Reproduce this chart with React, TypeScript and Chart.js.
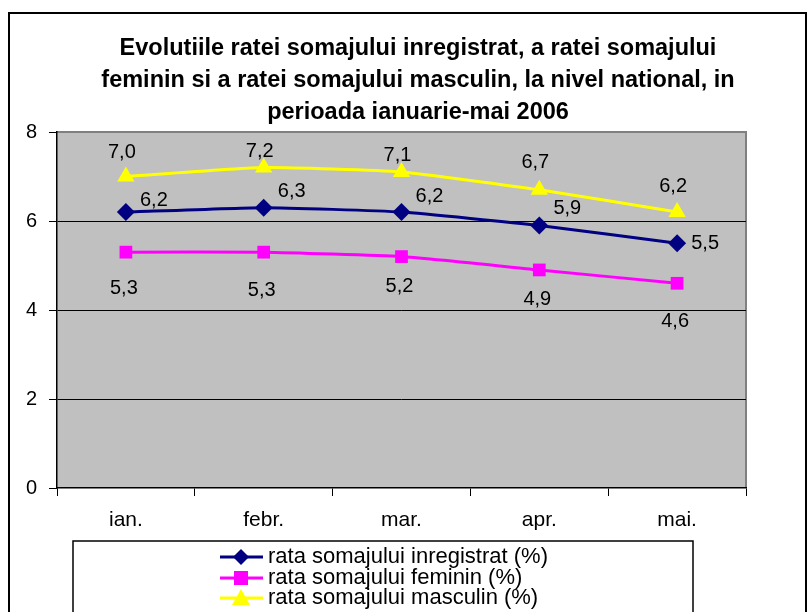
import React, { useEffect, useRef } from "react";
import { Chart, registerables } from "chart.js";

Chart.register(...registerables);

const categories = ["ian.", "febr.", "mar.", "apr.", "mai."];
const rateTotal = [6.2, 6.3, 6.2, 5.9, 5.5];
const rateFeminin = [5.3, 5.3, 5.2, 4.9, 4.6];
const rateMasculin = [7.0, 7.2, 7.1, 6.7, 6.2];
const seriesNames = [
  "rata somajului inregistrat (%)",
  "rata somajului feminin (%)",
  "rata somajului masculin (%)",
];
const titleLines = [
  "Evolutiile ratei somajului inregistrat, a ratei somajului",
  "feminin si a ratei somajului masculin, la nivel national, in",
  "perioada ianuarie-mai 2006",
];
const yTicks = [0, 2, 4, 6, 8];

// label offsets (style)
const labelDx = [28, -2, -4];
const labelDy = [
  [-12, -16, -16, -17, 0],
  [36, 38, 30, 30, 38],
  [-24, -16, -17, -27, -26],
];

const colors = ["#000080", "#FF00FF", "#FFFF00"];
const FONT = "Arial, 'Liberation Sans', sans-serif";

const fmt = (v: number) => v.toFixed(1).replace(".", ",");

const decorPlugin = {
  id: "decor",
  beforeDraw(chart: any) {
    const { ctx, chartArea } = chart;
    ctx.save();
    ctx.fillStyle = "#ffffff";
    ctx.fillRect(0, 0, chart.width, chart.height);
    // outer frame
    ctx.strokeStyle = "#000000";
    ctx.lineWidth = 2;
    ctx.strokeRect(9, 13, 797, 640);
    // plot background
    ctx.fillStyle = "#C0C0C0";
    ctx.fillRect(chartArea.left, chartArea.top, chartArea.right - chartArea.left, chartArea.bottom - chartArea.top);
    // grey top/right border
    ctx.strokeStyle = "#808080";
    ctx.lineWidth = 2;
    ctx.beginPath();
    ctx.moveTo(chartArea.left, chartArea.top);
    ctx.lineTo(chartArea.right, chartArea.top);
    ctx.lineTo(chartArea.right, chartArea.bottom);
    ctx.stroke();
    // title
    ctx.fillStyle = "#000000";
    ctx.font = `bold 23.5px ${FONT}`;
    ctx.textAlign = "center";
    ctx.textBaseline = "middle";
    titleLines.forEach((t, i) => ctx.fillText(t, 418, 49 + i * 32));
    ctx.restore();
  },
  afterDatasetsDraw(chart: any) {
    const { ctx } = chart;
    ctx.save();
    ctx.font = `20px ${FONT}`;
    ctx.fillStyle = "#000000";
    ctx.textAlign = "center";
    ctx.textBaseline = "middle";
    chart.data.datasets.forEach((ds: any, di: number) => {
      const meta = chart.getDatasetMeta(di);
      meta.data.forEach((pt: any, i: number) => {
        ctx.fillText(fmt(ds.data[i]), pt.x + labelDx[di], pt.y + labelDy[di][i]);
      });
    });
    // legend
    const bx = 73, by = 541, bw = 620;
    ctx.fillStyle = "#ffffff";
    ctx.fillRect(bx, by, bw, 100);
    ctx.strokeStyle = "#000000";
    ctx.lineWidth = 1.5;
    ctx.strokeRect(bx, by, bw, 100);
    const rowY = [557, 578, 598];
    chart.data.datasets.forEach((ds: any, di: number) => {
      const y = rowY[di];
      ctx.strokeStyle = colors[di];
      ctx.lineWidth = 3;
      ctx.beginPath();
      ctx.moveTo(220, y);
      ctx.lineTo(263, y);
      ctx.stroke();
      ctx.fillStyle = colors[di];
      ctx.beginPath();
      const cx = 241;
      if (di === 0) {
        ctx.moveTo(cx, y - 8); ctx.lineTo(cx + 8, y); ctx.lineTo(cx, y + 8); ctx.lineTo(cx - 8, y);
      } else if (di === 1) {
        ctx.rect(cx - 7, y - 7, 14, 14);
      } else {
        ctx.moveTo(cx, y - 9); ctx.lineTo(cx + 9, y + 7); ctx.lineTo(cx - 9, y + 7);
      }
      ctx.closePath();
      ctx.fill();
      ctx.fillStyle = "#000000";
      ctx.font = `22px ${FONT}`;
      ctx.textAlign = "left";
      ctx.textBaseline = "middle";
      ctx.fillText(ds.label, 268, y);
    });
    ctx.restore();
  },
};

export default function App() {
  const ref = useRef<HTMLCanvasElement>(null);
  useEffect(() => {
    const mk = (data: number[], i: number, style: string, r: number) => ({
      label: seriesNames[i],
      data,
      borderColor: colors[i],
      backgroundColor: colors[i],
      borderWidth: 3,
      pointStyle: style,
      pointRadius: r,
      pointBorderWidth: 0,
      pointBackgroundColor: colors[i],
      pointBorderColor: colors[i],
      tension: 0.15,
    });
    const chart = new Chart(ref.current!, {
      type: "line",
      data: {
        labels: categories,
        datasets: [
          mk(rateTotal, 0, "rectRot", 9),
          mk(rateFeminin, 1, "rect", 9),
          mk(rateMasculin, 2, "triangle", 10),
        ],
      },
      options: {
        animation: false,
        responsive: false,
        layout: { padding: { left: 0, right: 63, top: 132, bottom: 74 } },
        plugins: { legend: { display: false }, title: { display: false }, tooltip: { enabled: false } },
        scales: {
          x: {
            offset: true,
            grid: { offset: true, drawOnChartArea: false, drawTicks: true, tickLength: 8, tickColor: "#000", lineWidth: 1 },
            border: { color: "#000", width: 1.5 },
            ticks: { color: "#000", font: { size: 21, family: FONT }, padding: 12 },
            afterFit: (s: any) => { s.height = 50; },
          },
          y: {
            min: 0,
            max: 8,
            afterBuildTicks: (s: any) => { s.ticks = yTicks.map((v) => ({ value: v })); },
            grid: {
              color: (c: any) => (c.tick && (c.tick.value === 8 || c.tick.value === 0) ? "rgba(0,0,0,0)" : "#000"),
              tickColor: "#000",
              tickLength: 8,
              lineWidth: 1,
            },
            border: { color: "#000", width: 1.5 },
            ticks: { color: "#000", font: { size: 20, family: FONT }, padding: 12 },
            afterFit: (s: any) => { s.width = 57; },
          },
        },
      },
      plugins: [decorPlugin],
    });
    return () => chart.destroy();
  }, []);
  return (
    <div style={{ position: "absolute", left: 0, top: 0, width: 809, height: 612 }}>
      <canvas ref={ref} width={809} height={612} style={{ width: 809, height: 612 }} />
    </div>
  );
}
